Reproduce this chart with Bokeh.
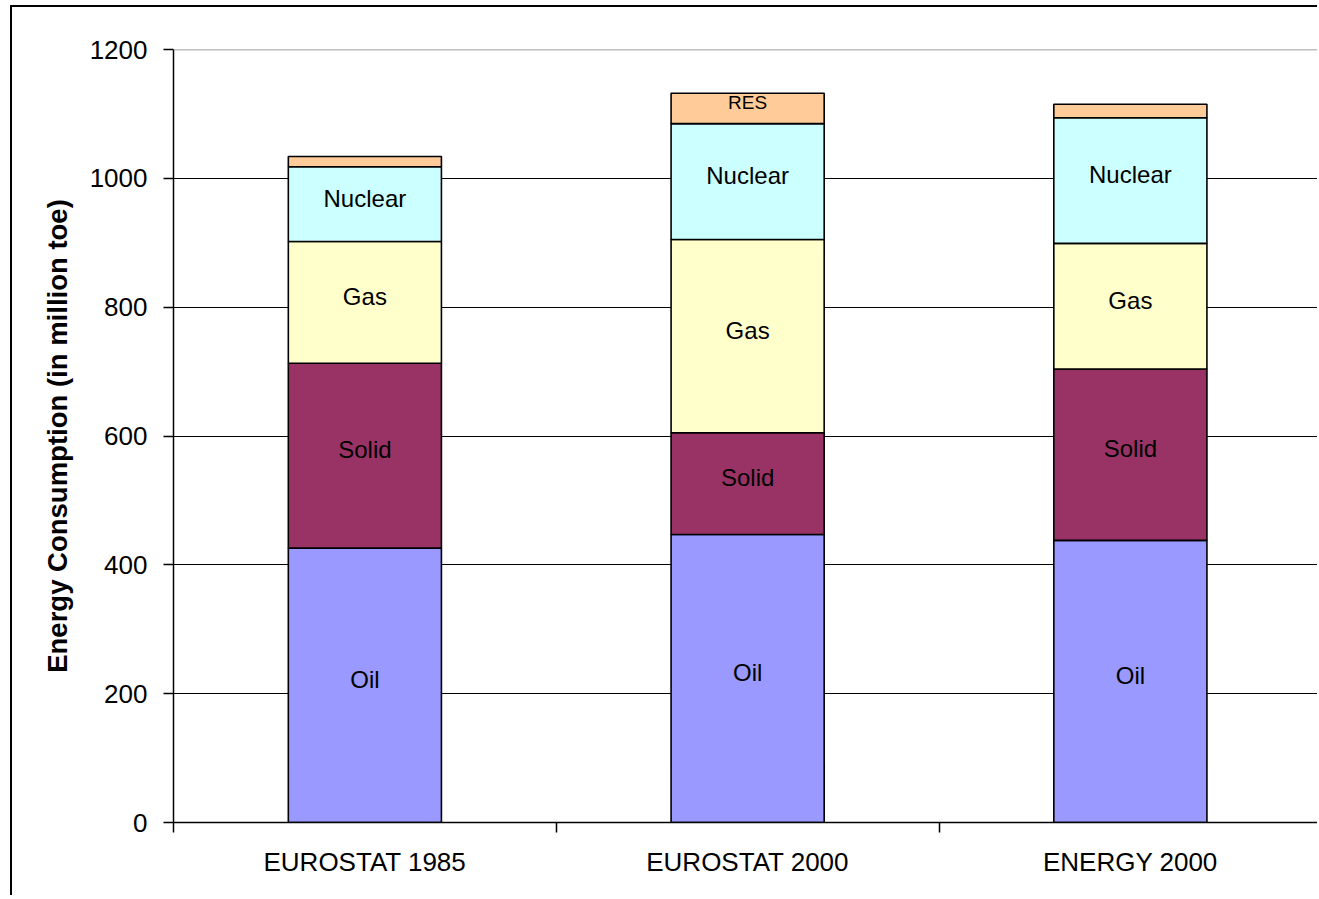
from bokeh.plotting import figure
from bokeh.models import FixedTicker, ColumnDataSource, Span
from bokeh.core.properties import value
from bokeh.embed import file_html
from bokeh.resources import INLINE

categories = ["EUROSTAT 1985", "EUROSTAT 2000", "ENERGY 2000"]
sources = ["Oil", "Solid", "Gas", "Nuclear", "RES"]
oil = [426, 447, 438]
solid = [287, 158, 266]
gas = [189, 300, 195]
nuclear = [116, 180, 195]
res = [16, 47, 21]
colors = ["#9999FF", "#993366", "#FFFFCC", "#CCFFFF", "#FFCC99"]
y_ticks = [0, 200, 400, 600, 800, 1000, 1200]
y_title = "Energy Consumption (in million toe)"

FONT = "Liberation Sans"
series = [oil, solid, gas, nuclear, res]
xs = [i + 0.5 for i in range(len(categories))]

p = figure(width=1307, height=890, output_backend="svg", toolbar_location=None,
           x_range=(0, 1146 / 382.75), y_range=(0, 1200),
           min_border_left=161, min_border_top=42, min_border_bottom=75, min_border_right=0)
p.styles = {"margin-left": "10px", "margin-top": "5px",
            "border-left": "2px solid black", "border-top": "2px solid black"}

bottoms = [0] * len(categories)
lab_x, lab_y, lab_t, lab_s = [], [], [], []
for name, vals, col in zip(sources, series, colors):
    tops = [b + v for b, v in zip(bottoms, vals)]
    p.vbar(x=xs, bottom=bottoms, top=tops, width=0.4, fill_color=col,
           line_color="black", line_width=1.6)
    for x, b, t, v in zip(xs, bottoms, tops, vals):
        if v >= 30:
            lab_x.append(x)
            lab_y.append((b + t) / 2)
            lab_t.append(name)
            lab_s.append("19px" if v < 60 else "24px")
    bottoms = tops

src = ColumnDataSource(dict(x=lab_x, y=lab_y, t=lab_t, s=lab_s))
p.text(x="x", y="y", text="t", source=src, text_font=value(FONT), text_font_size="s",
       text_align="center", text_baseline="middle", text_color="black", y_offset=-6)

p.outline_line_color = None
p.background_fill_color = "white"
p.border_fill_color = "white"
p.add_layout(Span(location=y_ticks[-1], dimension="width", line_color="#808080", line_width=1.5))

p.xgrid.visible = False
p.ygrid.ticker = FixedTicker(ticks=y_ticks[1:-1])
p.ygrid.grid_line_color = "black"
p.ygrid.grid_line_width = 1.2

yax = p.yaxis[0]
yax.ticker = FixedTicker(ticks=y_ticks)
yax.minor_tick_line_color = None
yax.major_tick_out = 10
yax.major_tick_in = 0
yax.major_tick_line_width = 1.5
yax.axis_line_width = 1.5
yax.major_label_standoff = 16
yax.major_label_text_font = FONT
yax.major_label_text_font_size = "26px"
yax.major_label_text_color = "black"
yax.axis_label = y_title
yax.axis_label_text_font = FONT
yax.axis_label_text_font_size = "27.5px"
yax.axis_label_text_font_style = "bold"
yax.axis_label_text_color = "black"
yax.axis_label_standoff = 14

xax = p.xaxis[0]
xax.ticker = FixedTicker(ticks=xs, minor_ticks=list(range(len(categories) + 1)))
xax.major_label_overrides = {x: c for x, c in zip(xs, categories)}
xax.major_tick_line_color = None
xax.major_tick_out = 10
xax.minor_tick_out = 10
xax.minor_tick_in = 0
xax.minor_tick_line_width = 1.5
xax.minor_tick_line_color = "black"
xax.axis_line_width = 1.5
xax.major_label_standoff = 14
xax.major_label_text_font = FONT
xax.major_label_text_font_size = "26px"
xax.major_label_text_color = "black"

open("out.html", "w").write(file_html(p, INLINE))
